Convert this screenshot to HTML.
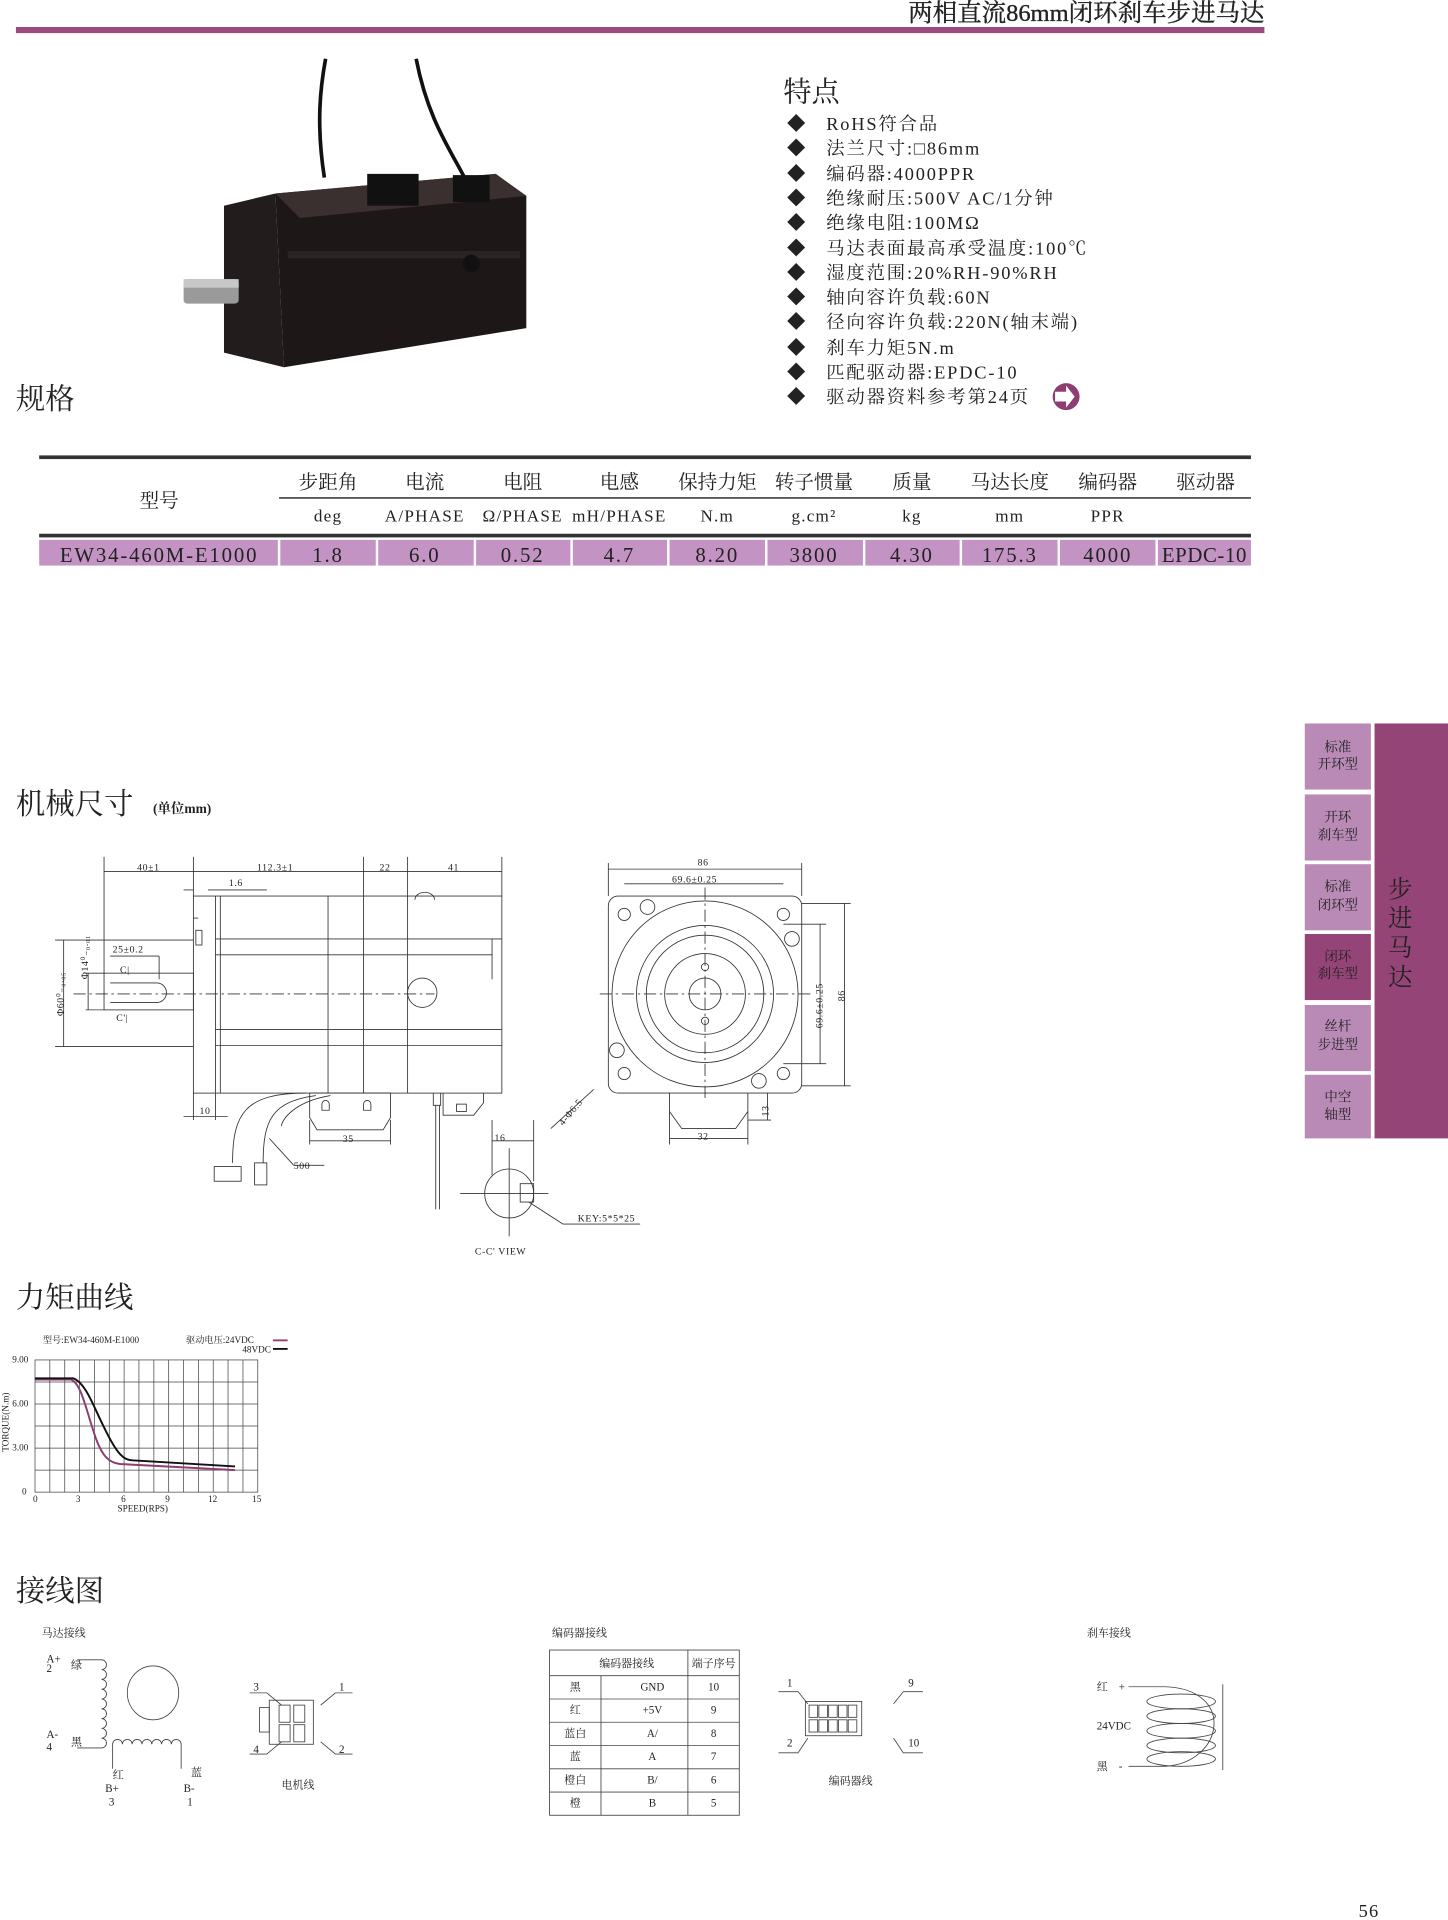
<!DOCTYPE html>
<html><head><meta charset="utf-8"><style>
html,body{margin:0;padding:0;background:#fff;}
svg{display:block;}
text{font-family:"Liberation Serif","Noto Serif CJK SC","Noto Sans CJK SC",serif;fill:#222;}
</style></head><body>
<svg width="1448" height="1920" viewBox="0 0 1183 1568.5" xmlns="http://www.w3.org/2000/svg">
<text x="1033" y="17" font-size="20" text-anchor="end" fill="#222" stroke="#222" stroke-width="0.3">两相直流86mm闭环刹车步进马达</text>
<rect x="13" y="22" width="1020" height="5" fill="#9b4a7d"/>

<g>
<path d="M265 145 C258 100 262 70 266 48" stroke="#111" stroke-width="3" fill="none"/>
<path d="M382 150 C370 125 350 100 340 48" stroke="#111" stroke-width="3" fill="none"/>
<polygon points="183,168 225,158 232,300 183,288" fill="#231c1c"/>
<polygon points="225,158 405,142 430,160 430,268 232,300" fill="#1d1717"/>
<polygon points="225,158 405,142 430,160 245,178" fill="#3a3030"/>
<rect x="235" y="205" width="190" height="6" fill="#2c2424"/>
<rect x="300" y="142" width="42" height="26" fill="#111"/>
<rect x="370" y="143" width="30" height="22" fill="#111"/>
<rect x="150" y="228" width="45" height="20" rx="3" fill="#9a9a9a"/>
<rect x="150" y="228" width="45" height="7" fill="#c8c8c8"/>
<circle cx="385" cy="215" r="7" fill="#111"/>
</g>

<text x="640" y="83" font-size="23">特点</text>
<g font-size="15" letter-spacing="1.5">
<text x="643" y="106">◆</text><text x="675" y="106">RoHS符合品</text>
<text x="643" y="126">◆</text><text x="675" y="126">法兰尺寸:□86mm</text>
<text x="643" y="147">◆</text><text x="675" y="147">编码器:4000PPR</text>
<text x="643" y="167">◆</text><text x="675" y="167">绝缘耐压:500V AC/1分钟</text>
<text x="643" y="187">◆</text><text x="675" y="187">绝缘电阻:100MΩ</text>
<text x="643" y="208">◆</text><text x="675" y="208">马达表面最高承受温度:100℃</text>
<text x="643" y="228">◆</text><text x="675" y="228">湿度范围:20%RH-90%RH</text>
<text x="643" y="248">◆</text><text x="675" y="248">轴向容许负载:60N</text>
<text x="643" y="268">◆</text><text x="675" y="268">径向容许负载:220N(轴末端)</text>
<text x="643" y="289">◆</text><text x="675" y="289">刹车力矩5N.m</text>
<text x="643" y="309">◆</text><text x="675" y="309">匹配驱动器:EPDC-10</text>
<text x="643" y="329">◆</text><text x="675" y="329">驱动器资料参考第24页</text>
</g>
<circle cx="871" cy="324" r="11" fill="#8e3d72"/>
<path d="M862 320 h9 v-5 l7 9 l-7 9 v-5 h-9z" fill="#fff"/>

<text x="13" y="334" font-size="24">规格</text>

<rect x="32" y="372" width="990" height="3" fill="#333"/>
<rect x="228" y="406" width="794" height="1.5" fill="#555"/>
<rect x="32" y="436" width="990" height="3" fill="#333"/>
<rect x="32" y="441" width="990" height="21" fill="#c394c3"/>
<g fill="#fff">
<rect x="227" y="441" width="2" height="21"/><rect x="307" y="441" width="2" height="21"/><rect x="387" y="441" width="2" height="21"/><rect x="466" y="441" width="2" height="21"/><rect x="545" y="441" width="2" height="21"/><rect x="625" y="441" width="2" height="21"/><rect x="705" y="441" width="2" height="21"/><rect x="784" y="441" width="2" height="21"/><rect x="864" y="441" width="2" height="21"/><rect x="944" y="441" width="2" height="21"/>
</g>
<g font-size="16" text-anchor="middle">
<text x="130" y="414">型号</text>
<text x="268" y="399">步距角</text><text x="347" y="399">电流</text><text x="427" y="399">电阻</text><text x="506" y="399">电感</text><text x="586" y="399">保持力矩</text><text x="665" y="399">转子惯量</text><text x="745" y="399">质量</text><text x="825" y="399">马达长度</text><text x="905" y="399">编码器</text><text x="985" y="399">驱动器</text>
</g>
<g font-size="14" text-anchor="middle" letter-spacing="1">
<text x="268" y="426">deg</text><text x="347" y="426">A/PHASE</text><text x="427" y="426">Ω/PHASE</text><text x="506" y="426">mH/PHASE</text><text x="586" y="426">N.m</text><text x="665" y="426">g.cm²</text><text x="745" y="426">kg</text><text x="825" y="426">mm</text><text x="905" y="426">PPR</text>
</g>
<g font-size="17" text-anchor="middle" letter-spacing="1.5">
<text x="130" y="459">EW34-460M-E1000</text>
<text x="268" y="459">1.8</text><text x="347" y="459">6.0</text><text x="427" y="459">0.52</text><text x="506" y="459">4.7</text><text x="586" y="459">8.20</text><text x="665" y="459">3800</text><text x="745" y="459">4.30</text><text x="825" y="459">175.3</text><text x="905" y="459">4000</text><text x="984" y="459" letter-spacing="0.5">EPDC-10</text>
</g>

<rect x="1123" y="591" width="60" height="339" fill="#954477"/>
<g fill="#b88ab5">
<rect x="1066" y="591" width="54" height="54"/><rect x="1066" y="649" width="54" height="54"/><rect x="1066" y="706" width="54" height="54"/><rect x="1066" y="821" width="54" height="54"/><rect x="1066" y="878" width="54" height="52"/>
</g>
<rect x="1066" y="763" width="54" height="54" fill="#954477"/>
<g font-size="11" text-anchor="middle" fill="#444">
<text x="1093" y="614">标准</text><text x="1093" y="628">开环型</text>
<text x="1093" y="671">开环</text><text x="1093" y="686">刹车型</text>
<text x="1093" y="728">标准</text><text x="1093" y="743">闭环型</text>
<text x="1093" y="785">闭环</text><text x="1093" y="799">刹车型</text>
<text x="1093" y="842">丝杆</text><text x="1093" y="857">步进型</text>
<text x="1093" y="900">中空</text><text x="1093" y="914">轴型</text>
</g>
<g font-size="20" text-anchor="middle" fill="#3a1030">
<text x="1144" y="733">步</text><text x="1144" y="757">进</text><text x="1144" y="781">马</text><text x="1144" y="805">达</text>
</g>

<text x="13" y="665" font-size="24">机械尺寸</text><text x="125" y="664" font-size="11" font-weight="bold">(单位mm)</text>
<g stroke="#333" stroke-width="0.7" fill="none">
<rect x="158" y="732" width="252" height="161"/>
<line x1="176" y1="732" x2="176" y2="893"/><line x1="180" y1="732" x2="180" y2="893"/>
<line x1="268" y1="732" x2="268" y2="893"/><line x1="297" y1="732" x2="297" y2="893"/><line x1="333" y1="732" x2="333" y2="893"/>
<line x1="176" y1="767" x2="410" y2="767"/><line x1="176" y1="780" x2="402" y2="780"/><line x1="402" y1="767" x2="402" y2="800"/>
<line x1="176" y1="854" x2="410" y2="854"/><line x1="176" y1="841" x2="410" y2="841"/>
<line x1="158" y1="750" x2="162" y2="750"/>
<rect x="160" y="760" width="5" height="12"/>
<circle cx="345" cy="811" r="12"/>
<path d="M339 735 a8 6 0 0 1 16 0"/>
<rect x="85" y="795" width="73" height="30"/>
<path d="M90 803 H128 a8 8 0 0 1 0 16 H90"/>
<line x1="60" y1="812" x2="355" y2="812" stroke-dasharray="10 3 2 3"/>
<line x1="85" y1="700" x2="85" y2="795"/><line x1="158" y1="700" x2="158" y2="732"/><line x1="297" y1="700" x2="297" y2="732"/><line x1="333" y1="700" x2="333" y2="732"/><line x1="410" y1="700" x2="410" y2="732"/>
<line x1="85" y1="712" x2="410" y2="712"/>
<line x1="170" y1="727" x2="218" y2="727"/><line x1="150" y1="727" x2="158" y2="727"/>
<line x1="45" y1="768" x2="158" y2="768"/><line x1="45" y1="855" x2="158" y2="855"/><line x1="52" y1="768" x2="52" y2="855"/>
<line x1="72" y1="795" x2="72" y2="825"/><line x1="70" y1="795" x2="85" y2="795"/><line x1="70" y1="825" x2="85" y2="825"/>
<line x1="90" y1="781" x2="130" y2="781"/><line x1="130" y1="781" x2="130" y2="800"/>
<line x1="158" y1="893" x2="158" y2="915"/><line x1="176" y1="893" x2="176" y2="915"/><line x1="150" y1="912" x2="186" y2="912"/>
<path d="M250 893 C200 893 190 910 190 950"/><path d="M258 895 C222 900 215 915 215 950"/><path d="M270 895 C240 900 230 915 230 920"/>
<rect x="175" y="953" width="22" height="12"/><rect x="208" y="950" width="10" height="18"/>
<path d="M253 893 h66 v20 l-6 10 h-54 l-6 -10z"/>
<path d="M263 902 a3 3 0 0 1 6 0 v5 h-6z M297 902 a3 3 0 0 1 6 0 v5 h-6z"/>
<line x1="253" y1="915" x2="253" y2="935"/><line x1="319" y1="915" x2="319" y2="935"/><line x1="253" y1="932" x2="319" y2="932"/>
<line x1="220" y1="930" x2="240" y2="952"/><line x1="240" y1="952" x2="265" y2="952"/>
<path d="M354 893 v10 h6 v-10 M356 903 v85 M359 903 v85"/>
<path d="M362 893 v18 h25 l8 -10 v-8"/><rect x="373" y="902" width="8" height="6"/>
<circle cx="416" cy="975" r="20"/>
<rect x="425" y="967" width="11" height="15"/>
<line x1="376" y1="975" x2="448" y2="975"/><line x1="416" y1="938" x2="416" y2="1010"/>
<line x1="402" y1="915" x2="402" y2="960"/><line x1="436" y1="915" x2="436" y2="965"/><line x1="402" y1="932" x2="436" y2="932"/>
<line x1="432" y1="982" x2="460" y2="1000"/><line x1="460" y1="1000" x2="523" y2="1000"/>
<line x1="450" y1="922" x2="485" y2="890"/>
<rect x="497" y="732" width="158" height="161" rx="8"/>
<circle cx="576" cy="812" r="76"/><circle cx="576" cy="812" r="56"/><circle cx="576" cy="812" r="48"/><circle cx="576" cy="812" r="33"/><circle cx="576" cy="812" r="13"/>
<circle cx="576" cy="790" r="3"/><circle cx="576" cy="834" r="3"/>
<circle cx="510" cy="747" r="5"/><circle cx="640" cy="747" r="5"/><circle cx="510" cy="877" r="5"/><circle cx="640" cy="877" r="5"/>
<circle cx="529" cy="741" r="6"/><circle cx="647" cy="767" r="6"/><circle cx="504" cy="858" r="6"/><circle cx="620" cy="883" r="6"/>
<line x1="490" y1="812" x2="665" y2="812" stroke-dasharray="10 3 2 3"/><line x1="576" y1="725" x2="576" y2="900" stroke-dasharray="10 3 2 3"/>
<line x1="497" y1="705" x2="497" y2="732"/><line x1="655" y1="705" x2="655" y2="732"/><line x1="497" y1="710" x2="655" y2="710"/>
<line x1="510" y1="722" x2="640" y2="722"/>
<line x1="655" y1="738" x2="695" y2="738"/><line x1="655" y1="887" x2="695" y2="887"/><line x1="690" y1="738" x2="690" y2="887"/>
<line x1="640" y1="755" x2="675" y2="755"/><line x1="640" y1="869" x2="675" y2="869"/><line x1="670" y1="755" x2="670" y2="869"/>
<path d="M547 893 v15 l10 14 h44 l10 -14 v-15"/>
<line x1="547" y1="908" x2="547" y2="935"/><line x1="611" y1="908" x2="611" y2="935"/><line x1="547" y1="930" x2="611" y2="930"/>
<line x1="611" y1="915" x2="630" y2="915"/><line x1="627" y1="893" x2="627" y2="915"/>
</g>
<g font-size="8" fill="#333" letter-spacing="0.5">
<text x="112" y="711">40±1</text><text x="210" y="711">112.3±1</text><text x="310" y="711">22</text><text x="366" y="711">41</text>
<text x="187" y="724">1.6</text><text x="92" y="778">25±0.2</text>
<text x="98" y="795">C|</text><text x="95" y="834">C'|</text>
<text x="163" y="910">10</text><text x="280" y="933">35</text><text x="240" y="955">500</text>
<text x="570" y="707">86</text><text x="549" y="721">69.6±0.25</text><text x="570" y="931">32</text>
<text x="404" y="932">16</text><text x="472" y="998">KEY:5*5*25</text><text x="388" y="1025">C-C' VIEW</text>
<text transform="translate(52,830) rotate(-90)">Φ60⁰₋₀.₀₅</text>
<text transform="translate(72,800) rotate(-90)">Φ14⁰₋₀.₀₁</text>
<text transform="translate(672,840) rotate(-90)">69.6±0.25</text>
<text transform="translate(690,818) rotate(-90)">86</text>
<text transform="translate(628,912) rotate(-90)">13</text>
<text transform="translate(460,920) rotate(-50)">4-Φ6.5</text>
</g>

<text x="13" y="1068" font-size="24">力矩曲线</text>
<g font-size="7.5" fill="#333">
<text x="35" y="1097">型号:EW34-460M-E1000</text><text x="152" y="1097">驱动电压:24VDC</text><text x="198" y="1105">48VDC</text>
<text x="10" y="1113">9.00</text><text x="10" y="1149">6.00</text><text x="10" y="1185">3.00</text><text x="18" y="1221">0</text>
<text x="27" y="1227">0</text><text x="62" y="1227">3</text><text x="99" y="1227">6</text><text x="135" y="1227">9</text><text x="170" y="1227">12</text><text x="206" y="1227">15</text>
<text x="96" y="1235">SPEED(RPS)</text>
<text transform="translate(7,1186) rotate(-90)">TORQUE(N.m)</text>
</g>
<line x1="223" y1="1095" x2="235" y2="1095" stroke="#8e3d72" stroke-width="1.5"/>
<line x1="223" y1="1102" x2="235" y2="1102" stroke="#111" stroke-width="1.5"/>
<g stroke="#444" stroke-width="0.6" fill="none">
<rect x="28.6" y="1111" width="182" height="108"/>
<line x1="40.7" y1="1111" x2="40.7" y2="1219"/><line x1="52.9" y1="1111" x2="52.9" y2="1219"/><line x1="65" y1="1111" x2="65" y2="1219"/><line x1="77.1" y1="1111" x2="77.1" y2="1219"/><line x1="89.3" y1="1111" x2="89.3" y2="1219"/><line x1="101.4" y1="1111" x2="101.4" y2="1219"/><line x1="113.5" y1="1111" x2="113.5" y2="1219"/><line x1="125.7" y1="1111" x2="125.7" y2="1219"/><line x1="137.8" y1="1111" x2="137.8" y2="1219"/><line x1="149.9" y1="1111" x2="149.9" y2="1219"/><line x1="162.1" y1="1111" x2="162.1" y2="1219"/><line x1="174.2" y1="1111" x2="174.2" y2="1219"/><line x1="186.3" y1="1111" x2="186.3" y2="1219"/><line x1="198.5" y1="1111" x2="198.5" y2="1219"/>
<line x1="28.6" y1="1129" x2="210.6" y2="1129"/><line x1="28.6" y1="1147" x2="210.6" y2="1147"/><line x1="28.6" y1="1165" x2="210.6" y2="1165"/><line x1="28.6" y1="1183" x2="210.6" y2="1183"/><line x1="28.6" y1="1201" x2="210.6" y2="1201"/>
</g>
<path d="M28.6 1127 L58 1127 C66 1130 70 1150 76 1168 C82 1188 88 1195 98 1196 L192 1201" stroke="#8e3d72" stroke-width="1.6" fill="none"/>
<path d="M28.6 1126 L60 1126 C70 1130 76 1148 84 1164 C94 1185 100 1193 108 1193 L192 1198" stroke="#111" stroke-width="1.6" fill="none"/>

<text x="13" y="1308" font-size="24">接线图</text>
<g font-size="9" fill="#333">
<text x="34" y="1337">马达接线</text><text x="451" y="1337">编码器接线</text><text x="888" y="1337">刹车接线</text>
<text x="38" y="1358">A+</text><text x="38" y="1366">2</text><text x="58" y="1363">绿</text>
<text x="38" y="1420">A-</text><text x="38" y="1430">4</text><text x="58" y="1426">黑</text>
<text x="92" y="1453">红</text><text x="86" y="1464">B+</text><text x="89" y="1475">3</text>
<text x="156" y="1451">蓝</text><text x="150" y="1464">B-</text><text x="153" y="1475">1</text>
<text x="207" y="1381">3</text><text x="277" y="1381">1</text><text x="207" y="1432">4</text><text x="277" y="1432">2</text>
<text x="230" y="1461">电机线</text>
<text x="643" y="1378">1</text><text x="742" y="1378">9</text><text x="643" y="1427">2</text><text x="742" y="1427">10</text>
<text x="677" y="1458">编码器线</text>
<text x="896" y="1381">红</text><text x="914" y="1381">+</text><text x="896" y="1413">24VDC</text><text x="896" y="1446">黑</text><text x="914" y="1446">-</text>
</g>
<g stroke="#444" stroke-width="0.7" fill="none">
<path d="M63 1356 h20 a4 4 0 0 1 0 8 a4 4 0 0 1 0 8 a4 4 0 0 1 0 8 a4 4 0 0 1 0 8 a4 4 0 0 1 0 8 a4 4 0 0 1 0 8 a4 4 0 0 1 0 8 a4 4 0 0 1 0 8 a4 4 0 0 1 0 8 h-20"/>
<ellipse cx="125" cy="1383" rx="21" ry="22"/>
<path d="M92 1445 v-20 a4 4 0 0 1 8 0 a4 4 0 0 1 8 0 a4 4 0 0 1 8 0 a4 4 0 0 1 8 0 a4 4 0 0 1 8 0 a4 4 0 0 1 8 0 a4 4 0 0 1 8 0 v20"/>
<rect x="220" y="1389" width="36" height="36"/><rect x="212" y="1395" width="8" height="20"/>
<rect x="228" y="1393" width="9" height="14"/><rect x="240" y="1393" width="9" height="14"/><rect x="228" y="1409" width="9" height="14"/><rect x="240" y="1409" width="9" height="14"/>
<path d="M204 1383 h14 l12 10 M288 1383 h-14 l-12 10 M204 1433 h14 l12 -10 M288 1433 h-14 l-12 -10"/>
<rect x="449" y="1348" width="155" height="135"/>
<line x1="449" y1="1369" x2="604" y2="1369"/><line x1="449" y1="1388" x2="604" y2="1388"/><line x1="449" y1="1407" x2="604" y2="1407"/><line x1="449" y1="1426" x2="604" y2="1426"/><line x1="449" y1="1445" x2="604" y2="1445"/><line x1="449" y1="1464" x2="604" y2="1464"/>
<line x1="562" y1="1348" x2="562" y2="1483"/><line x1="491" y1="1369" x2="491" y2="1483"/>
<rect x="658" y="1390" width="46" height="28"/>
<rect x="661" y="1393" width="7" height="10"/><rect x="669" y="1393" width="7" height="10"/><rect x="677" y="1393" width="7" height="10"/><rect x="685" y="1393" width="7" height="10"/><rect x="693" y="1393" width="7" height="10"/>
<rect x="661" y="1405" width="7" height="10"/><rect x="669" y="1405" width="7" height="10"/><rect x="677" y="1405" width="7" height="10"/><rect x="685" y="1405" width="7" height="10"/><rect x="693" y="1405" width="7" height="10"/>
<path d="M636 1382 h16 l8 10 M754 1382 h-16 l-8 10 M636 1432 h16 l8 -12 M754 1432 h-16 l-8 -12"/>
<path d="M922 1378 h30 C1010 1380 1000 1440 952 1443 h-30"/>
<ellipse cx="965" cy="1390" rx="28" ry="6"/><ellipse cx="965" cy="1402" rx="28" ry="6"/><ellipse cx="965" cy="1414" rx="28" ry="6"/><ellipse cx="965" cy="1426" rx="28" ry="6"/><ellipse cx="965" cy="1437" rx="28" ry="6"/>
<line x1="999" y1="1376" x2="999" y2="1446"/>
</g>
<g font-size="9" fill="#333" text-anchor="middle">
<text x="512" y="1362">编码器接线</text><text x="583" y="1362">端子序号</text>
<text x="470" y="1381">黑</text><text x="533" y="1381">GND</text><text x="583" y="1381">10</text>
<text x="470" y="1400">红</text><text x="533" y="1400">+5V</text><text x="583" y="1400">9</text>
<text x="470" y="1419">蓝白</text><text x="533" y="1419">A/</text><text x="583" y="1419">8</text>
<text x="470" y="1438">蓝</text><text x="533" y="1438">A</text><text x="583" y="1438">7</text>
<text x="470" y="1457">橙白</text><text x="533" y="1457">B/</text><text x="583" y="1457">6</text>
<text x="470" y="1476">橙</text><text x="533" y="1476">B</text><text x="583" y="1476">5</text>
</g>

<text x="1110" y="1566" font-size="15" fill="#444" letter-spacing="1">56</text>
</svg>
</body></html>
